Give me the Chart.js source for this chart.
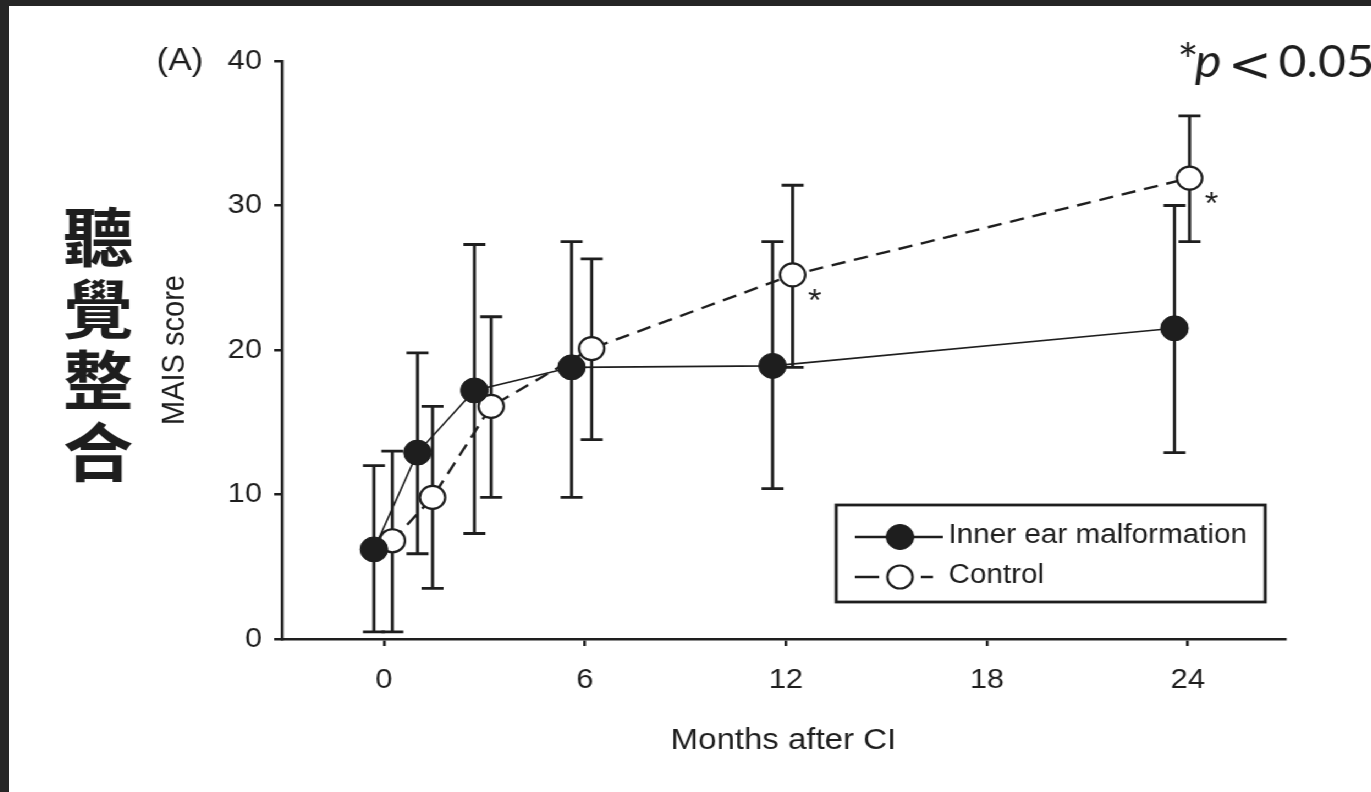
<!DOCTYPE html>
<html>
<head>
<meta charset="utf-8">
<script src="https://cdn.jsdelivr.net/npm/chart.js@4.4.0/dist/chart.umd.min.js"></script>
<style>
html,body{margin:0;padding:0;background:#262626;overflow:hidden;}
#wrap{position:absolute;left:9px;top:6px;width:1238px;height:786px;background:#fff;
      transform:scaleX(1.1);transform-origin:0 0;}
</style>
</head>
<body>
<div id="wrap"><canvas id="mais" width="1238" height="786"></canvas></div>
<script>
/* ========= DATA ========= */
const monthTicks = [0, 6, 12, 18, 24];
const scoreTicks = [0, 10, 20, 30, 40];

// inner ear malformation group: mean and error bar ends
const innerMonths = [-0.3, 1.0, 2.7, 5.6, 11.6, 23.6];
const innerMean   = [6.2, 12.9, 17.2, 18.8, 18.9, 21.5];
const innerHigh   = [12.0, 19.8, 27.3, 27.5, 27.5, 30.0];
const innerLow    = [0.5, 5.9, 7.3, 9.8, 10.4, 12.9];

// control group
const ctrlMonths = [0.25, 1.45, 3.2, 6.2, 12.2, 24.05];
const ctrlMean   = [6.8, 9.8, 16.1, 20.1, 25.2, 31.9];
const ctrlHigh   = [13.0, 16.1, 22.3, 26.3, 31.4, 36.2];
const ctrlLow    = [0.5, 3.5, 9.8, 13.8, 18.8, 27.5];
const ctrlSig    = [false, false, false, false, true, true];

const sideLabel = '聽覺整合';

/* ========= STYLE ========= */
const INK  = '#1e1e1e';
const FONT = '"Liberation Sans", Arial, sans-serif';
const CAP  = 10;

const pts = (xs, ys) => xs.map((m, i) => ({x: m, y: ys[i]}));

/* ========= PLUGINS ========= */
const errorBars = {
  id: 'errorBars',
  beforeDatasetsDraw(chart){
    const {ctx, scales:{x, y}} = chart;
    ctx.save();
    ctx.strokeStyle = INK; ctx.lineWidth = 2.8;
    chart.data.datasets.forEach(ds => {
      ds.data.forEach((p, i) => {
        const px = x.getPixelForValue(p.x);
        const hi = y.getPixelForValue(ds.errHigh[i]);
        const lo = y.getPixelForValue(ds.errLow[i]);
        ctx.beginPath();
        ctx.moveTo(px, hi); ctx.lineTo(px, lo);
        ctx.moveTo(px - CAP, hi); ctx.lineTo(px + CAP, hi);
        ctx.moveTo(px - CAP, lo); ctx.lineTo(px + CAP, lo);
        ctx.stroke();
      });
    });
    ctx.restore();
  }
};

function marker(ctx, ds, cx, cy){
  ctx.beginPath();
  ctx.arc(cx, cy, ds.pointRadius, 0, Math.PI * 2);
  ctx.fillStyle = ds.pointBackgroundColor; ctx.fill();
  ctx.lineWidth = ds.pointBorderWidth; ctx.strokeStyle = ds.pointBorderColor; ctx.stroke();
}

const extras = {
  id: 'extras',
  afterDraw(chart){
    const {ctx, scales:{y}} = chart;
    ctx.save();
    ctx.fillStyle = INK;

    // panel tag next to the top tick
    ctx.font = '32px ' + FONT; ctx.textAlign = 'left'; ctx.textBaseline = 'middle';
    ctx.fillText('(A)', 134, y.getPixelForValue(40));

    // vertical chinese label
    ctx.font = 'bold 64px "Noto Sans CJK TC"'; ctx.textAlign = 'center';
    [...sideLabel].forEach((c, i) => ctx.fillText(c, 81, 231 + i * 71.5));

    // significance note
    ctx.textAlign = 'left'; ctx.textBaseline = 'alphabetic';
    ctx.font = '46px Lato';          ctx.fillText('*', 1062, 71);
    ctx.font = 'italic 46px Lato';   ctx.fillText('p', 1078, 71);
    ctx.font = '48px "DejaVu Sans"'; ctx.fillText('<', 1108, 75);
    ctx.font = '44px Lato';          ctx.fillText('0.05.', 1154, 71);

    // asterisks on significant control points
    const meta = chart.getDatasetMeta(1);
    ctx.font = '32px ' + FONT; ctx.textAlign = 'center';
    ctrlSig.forEach((s, i) => {
      if(!s) return;
      const p = meta.data[i];
      ctx.fillText('*', p.x + 20, p.y + 36);
    });

    // legend box
    const box = {l: 752, t: 499, r: 1142, b: 596};
    ctx.fillStyle = '#fff';
    ctx.fillRect(box.l, box.t, box.r - box.l, box.b - box.t);
    ctx.lineWidth = 2.8; ctx.strokeStyle = INK;
    ctx.strokeRect(box.l, box.t, box.r - box.l, box.b - box.t);

    const rows = [{y: 531, end: 849}, {y: 571, end: 840}];
    chart.data.datasets.forEach((ds, i) => {
      const r = rows[i];
      ctx.save();
      ctx.strokeStyle = INK; ctx.lineWidth = 2.6;
      ctx.setLineDash(ds.borderDash ? [22, 8] : []);
      ctx.beginPath(); ctx.moveTo(769, r.y); ctx.lineTo(r.end, r.y); ctx.stroke();
      ctx.restore();
      marker(ctx, ds, 810, r.y);
      ctx.fillStyle = INK; ctx.font = '27px ' + FONT;
      ctx.textAlign = 'left'; ctx.textBaseline = 'middle';
      ctx.fillText(ds.label, 854, r.y - 1);
    });
    ctx.restore();
  }
};

/* ========= CHART ========= */
const axisGrid = {drawOnChartArea: false, tickLength: 7, color: INK, lineWidth: 2.5};

new Chart(document.getElementById('mais'), {
  type: 'scatter',
  data: {
    datasets: [
      {
        label: 'Inner ear malformation',
        data: pts(innerMonths, innerMean),
        errHigh: innerHigh, errLow: innerLow,
        showLine: true, borderColor: INK, borderWidth: 1.6,
        pointRadius: 12.5, pointBackgroundColor: INK, pointBorderColor: INK, pointBorderWidth: 1
      },
      {
        label: 'Control',
        data: pts(ctrlMonths, ctrlMean),
        errHigh: ctrlHigh, errLow: ctrlLow,
        showLine: true, borderColor: INK, borderWidth: 2.4, borderDash: [13, 8],
        pointRadius: 11.5, pointBackgroundColor: '#fff', pointBorderColor: INK, pointBorderWidth: 2.2
      }
    ]
  },
  options: {
    responsive: false,
    animation: false,
    layout: {padding: {left: 0, right: 78, top: 55, bottom: 0}},
    plugins: {legend: {display: false}, tooltip: {enabled: false}},
    scales: {
      x: {
        type: 'linear', min: -3.05, max: 26.9,
        afterBuildTicks: s => { s.ticks = monthTicks.map(v => ({value: v})); },
        afterFit: s => { s.height = 153; },
        grid: axisGrid,
        border: {color: INK, width: 2.6},
        ticks: {color: INK, font: {family: FONT, size: 28}, padding: 17, maxRotation: 0},
        title: {display: true, text: 'Months after CI', color: INK,
                font: {family: FONT, size: 30}, padding: {top: 0, bottom: 33}}
      },
      y: {
        min: 0, max: 40,
        afterBuildTicks: s => { s.ticks = scoreTicks.map(v => ({value: v})); },
        afterFit: s => { s.width = 248; },
        grid: axisGrid,
        border: {color: INK, width: 2.6},
        ticks: {color: INK, font: {family: FONT, size: 28}, padding: 11},
        title: {display: true, text: 'MAIS score', color: INK,
                font: {family: FONT, size: 29}, padding: {top: 134, bottom: 0}}
      }
    }
  },
  plugins: [errorBars, extras]
});
</script>
</body>
</html>
